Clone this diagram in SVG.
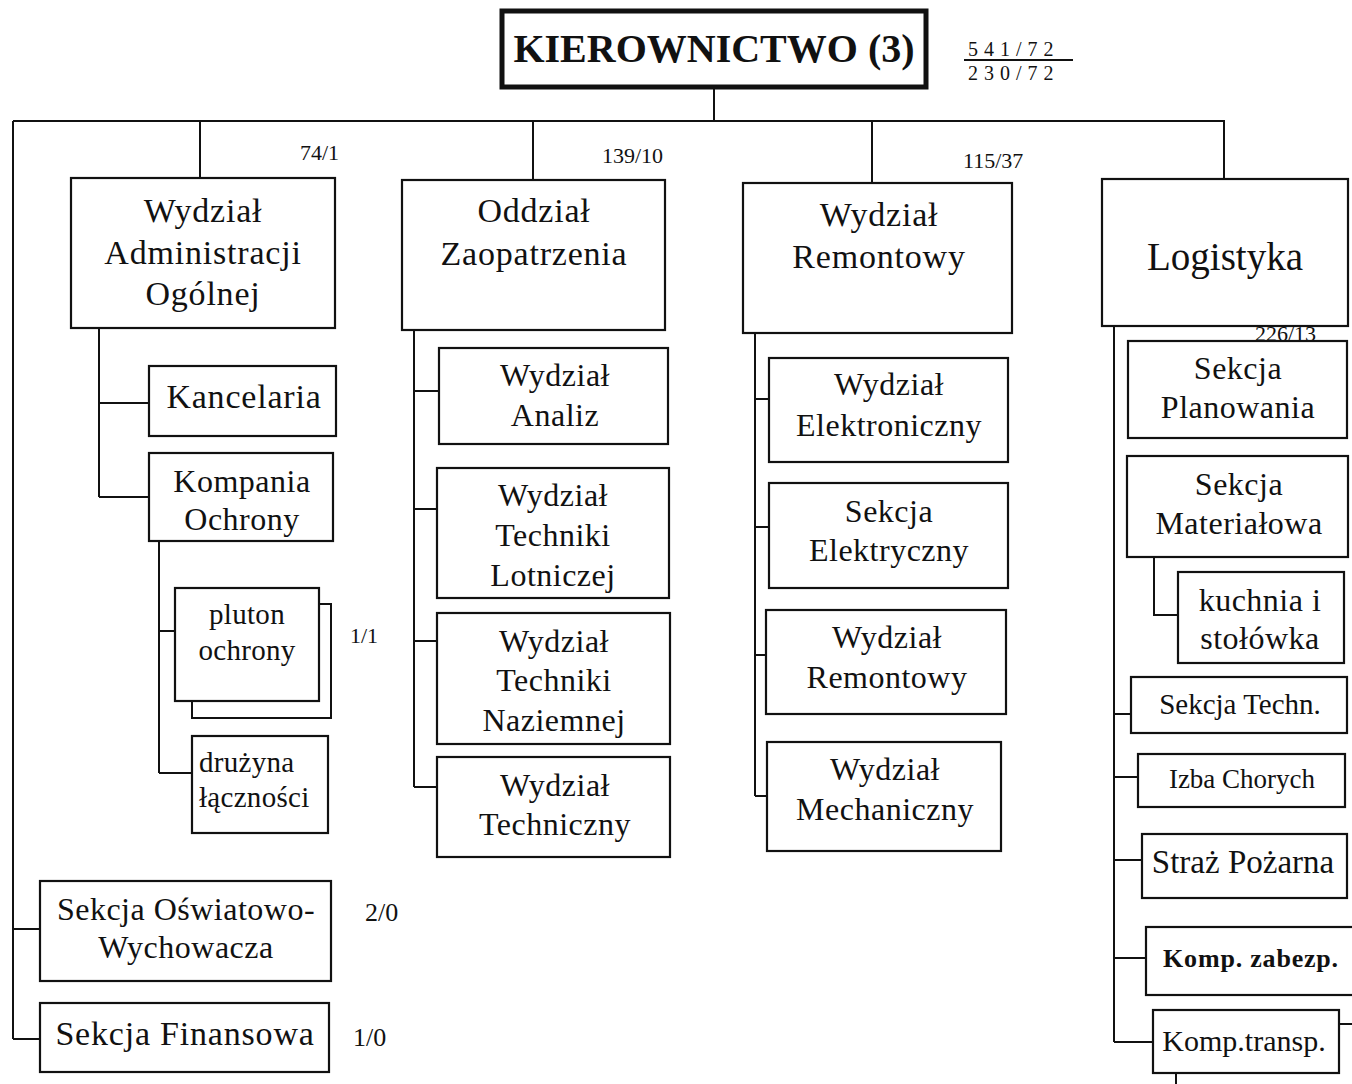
<svg xmlns="http://www.w3.org/2000/svg" width="1352" height="1084" viewBox="0 0 1352 1084">
<style>
.b{fill:#fff;stroke:#111;stroke-width:2.2}
.c{fill:none;stroke:#111;stroke-width:2}
text{font-family:"Liberation Serif","Times New Roman",serif;fill:#111}
.t32{font-size:34px;letter-spacing:0.8px;text-anchor:middle}
.t30{font-size:32px;letter-spacing:0.5px;text-anchor:middle}
.t28{font-size:29px;letter-spacing:0.3px}
.n{font-size:22px}
</style>
<rect width="1352" height="1084" fill="#fff"/>
<g id="connectors">
<path class="c" d="M714 88V121M13 121H1225M200 121V178M533 121V180M872 121V183M1224 121V179"/>
<path class="c" d="M13 121V1039M13 929H40M13 1039H40"/>
<path class="c" d="M99 328V497M99 403H149M99 497H149"/>
<path class="c" d="M159 541V773M159 631H175M159 773H192"/>
<path class="c" d="M414 330V787M414 391H439M414 509H437M414 641H437M414 787H437"/>
<path class="c" d="M755 333V796M755 399H769M755 527H769M755 655H766M755 796H767"/>
<path class="c" d="M1114 326V1042M1114 714H1131M1114 777H1138M1114 860H1142M1114 958H1146M1114 1042H1153"/>
<path class="c" d="M1154 557V615H1178"/>
<path class="c" d="M1339 1024H1352M1176 1073V1084"/>
</g>
<g id="kierownictwo">
<rect x="502" y="11" width="424" height="76" fill="#fff" stroke="#111" stroke-width="5"/>
<text x="714" y="62" font-size="40" font-weight="bold" text-anchor="middle">KIEROWNICTWO (3)</text>
</g>
<g id="fraction">
<text x="968" y="56" font-size="20" letter-spacing="6">541/72</text>
<line x1="964" y1="60" x2="1073" y2="60" stroke="#111" stroke-width="1.8"/>
<text x="968" y="80" font-size="20" letter-spacing="6">230/72</text>
</g>
<g id="labels">
<text class="n" x="300" y="160">74/1</text>
<text class="n" x="602" y="163">139/10</text>
<text class="n" x="963" y="168">115/37</text>
<text class="n" x="1255" y="341">226/13</text>
<text class="n" x="350" y="643">1/1</text>
<text x="365" y="921" font-size="26">2/0</text>
<text x="353" y="1046" font-size="26">1/0</text>
</g>
<g id="adm">
<rect class="b" x="71" y="178" width="264" height="150"/>
<text class="t32" x="203" y="222">Wydział</text>
<text class="t32" x="203" y="264">Administracji</text>
<text class="t32" x="203" y="305">Ogólnej</text>
</g>
<g id="zaop">
<rect class="b" x="402" y="180" width="263" height="150"/>
<text class="t32" x="534" y="222">Oddział</text>
<text class="t32" x="534" y="265">Zaopatrzenia</text>
</g>
<g id="remont">
<rect class="b" x="743" y="183" width="269" height="150"/>
<text class="t32" x="879" y="226">Wydział</text>
<text class="t32" x="879" y="268">Remontowy</text>
</g>
<g id="logistyka">
<rect class="b" x="1102" y="179" width="246" height="147"/>
<text x="1225" y="270" font-size="39" text-anchor="middle">Logistyka</text>
</g>
<g id="kancelaria">
<rect class="b" x="149" y="366" width="187" height="70"/>
<text class="t32" x="244" y="408">Kancelaria</text>
</g>
<g id="kompania">
<rect class="b" x="149" y="453" width="184" height="88"/>
<text class="t30" x="242" y="492">Kompania</text>
<text class="t30" x="242" y="530">Ochrony</text>
</g>
<g id="pluton">
<path class="c" d="M319 604H331V718H192V701"/>
<rect class="b" x="175" y="588" width="144" height="113"/>
<text class="t28" x="247" y="624" text-anchor="middle">pluton</text>
<text class="t28" x="247" y="660" text-anchor="middle">ochrony</text>
</g>
<g id="druzyna">
<rect class="b" x="192" y="736" width="136" height="97"/>
<text class="t28" x="199" y="772">drużyna</text>
<text class="t28" x="199" y="807">łączności</text>
</g>
<g id="oswiat">
<rect class="b" x="40" y="881" width="291" height="100"/>
<text class="t30" x="186" y="920">Sekcja Oświatowo-</text>
<text class="t30" x="186" y="958">Wychowacza</text>
</g>
<g id="finanse">
<rect class="b" x="40" y="1003" width="289" height="69"/>
<text class="t32" x="185" y="1045">Sekcja Finansowa</text>
</g>
<g id="analiz">
<rect class="b" x="439" y="348" width="229" height="96"/>
<text class="t30" x="555" y="386">Wydział</text>
<text class="t30" x="555" y="426">Analiz</text>
</g>
<g id="lotnicz">
<rect class="b" x="437" y="468" width="232" height="130"/>
<text class="t30" x="553" y="506">Wydział</text>
<text class="t30" x="553" y="546">Techniki</text>
<text class="t30" x="553" y="586">Lotniczej</text>
</g>
<g id="naziem">
<rect class="b" x="437" y="613" width="233" height="131"/>
<text class="t30" x="554" y="652">Wydział</text>
<text class="t30" x="554" y="691">Techniki</text>
<text class="t30" x="554" y="731">Naziemnej</text>
</g>
<g id="techniczny">
<rect class="b" x="437" y="757" width="233" height="100"/>
<text class="t30" x="555" y="796">Wydział</text>
<text class="t30" x="555" y="835">Techniczny</text>
</g>
<g id="elektron">
<rect class="b" x="769" y="358" width="239" height="104"/>
<text class="t30" x="889" y="395">Wydział</text>
<text class="t30" x="889" y="436">Elektroniczny</text>
</g>
<g id="elektryczny">
<rect class="b" x="769" y="483" width="239" height="105"/>
<text class="t30" x="889" y="522">Sekcja</text>
<text class="t30" x="889" y="561">Elektryczny</text>
</g>
<g id="remont2">
<rect class="b" x="766" y="610" width="240" height="104"/>
<text class="t30" x="887" y="648">Wydział</text>
<text class="t30" x="887" y="688">Remontowy</text>
</g>
<g id="mechan">
<rect class="b" x="767" y="742" width="234" height="109"/>
<text class="t30" x="885" y="780">Wydział</text>
<text class="t30" x="885" y="820">Mechaniczny</text>
</g>
<g id="planowania">
<rect class="b" x="1128" y="341" width="219" height="97"/>
<text class="t30" x="1238" y="379">Sekcja</text>
<text class="t30" x="1238" y="418">Planowania</text>
</g>
<g id="material">
<rect class="b" x="1127" y="456" width="221" height="101"/>
<text class="t30" x="1239" y="495">Sekcja</text>
<text class="t30" x="1239" y="534">Materiałowa</text>
</g>
<g id="kuchnia">
<rect class="b" x="1178" y="572" width="166" height="91"/>
<text class="t30" x="1260" y="611">kuchnia i</text>
<text class="t30" x="1260" y="649">stołówka</text>
</g>
<g id="techn">
<rect class="b" x="1131" y="677" width="216" height="56"/>
<text x="1240" y="714" font-size="29" text-anchor="middle">Sekcja Techn.</text>
</g>
<g id="izba">
<rect class="b" x="1138" y="754" width="207" height="53"/>
<text x="1242" y="788" font-size="27" text-anchor="middle">Izba Chorych</text>
</g>
<g id="straz">
<rect class="b" x="1142" y="834" width="205" height="64"/>
<text x="1243" y="873" font-size="33" text-anchor="middle">Straż Pożarna</text>
</g>
<g id="zabezp">
<rect class="b" x="1146" y="927" width="212" height="68"/>
<text x="1251" y="967" font-size="26" font-weight="bold" letter-spacing="0.8" text-anchor="middle">Komp. zabezp.</text>
</g>
<g id="transp">
<rect class="b" x="1153" y="1010" width="186" height="63"/>
<text x="1244" y="1051" font-size="30" text-anchor="middle">Komp.transp.</text>
</g>
</svg>
